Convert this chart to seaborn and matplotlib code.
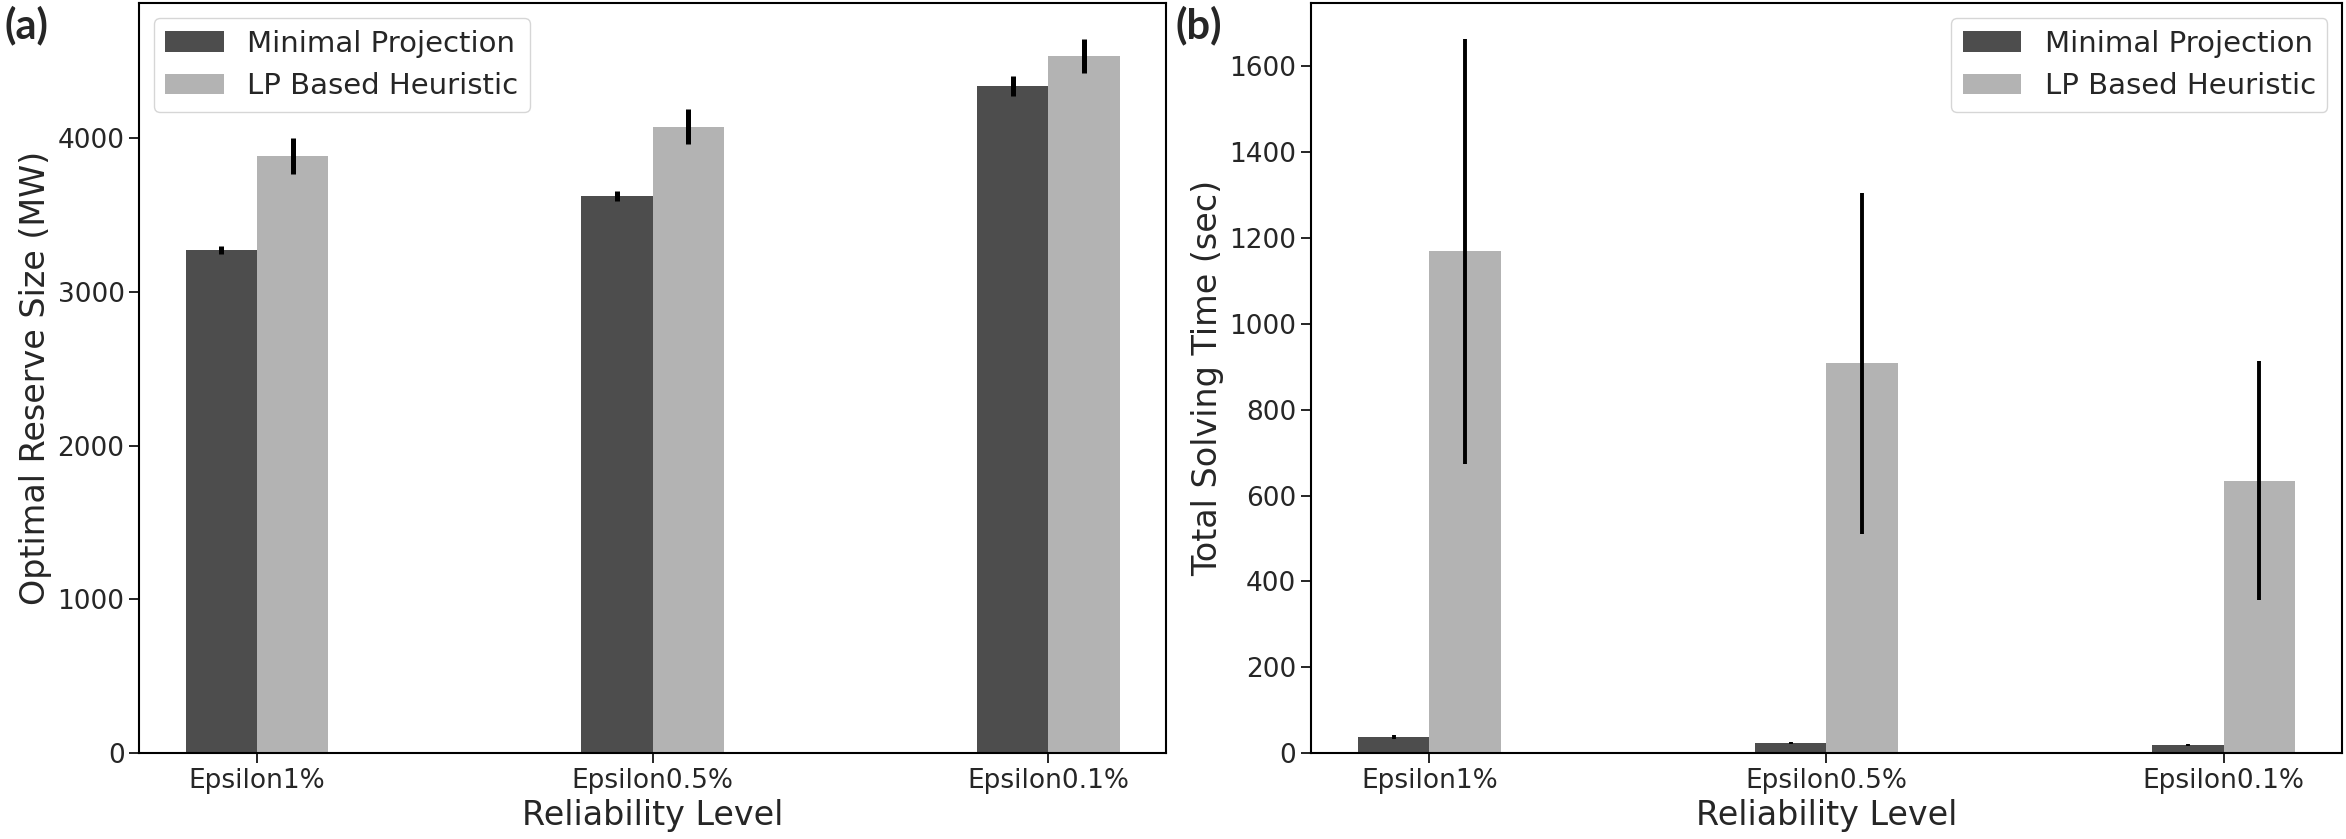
import pandas as pd
import matplotlib
matplotlib.use("Agg")
import matplotlib.pyplot as plt
import seaborn as sns

# --- DATA ---
levels = ["Epsilon1%", "Epsilon0.5%", "Epsilon0.1%"]
methods = ["Minimal Projection", "LP Based Heuristic"]

reserve_mp = [3275, 3625, 4340]
reserve_mp_err = [27, 35, 65]
reserve_lp = [3887, 4076, 4535]
reserve_lp_err = [117, 114, 112]

time_mp = [37, 23, 18]
time_mp_err = [5, 3, 2]
time_lp = [1169, 908, 635]
time_lp_err = [495, 398, 279]

COLORS = ["#4d4d4d", "#b3b3b3"]


def long_frame(mp, lp):
    rows = []
    for lvl, v in zip(levels, mp):
        rows.append({"level": lvl, "value": v, "method": methods[0]})
    for lvl, v in zip(levels, lp):
        rows.append({"level": lvl, "value": v, "method": methods[1]})
    return pd.DataFrame(rows)


def draw_panel(ax, mp, mp_err, lp, lp_err, ylabel, legend_loc, err_lw):
    df = long_frame(mp, lp)
    sns.barplot(data=df, x="level", y="value", hue="method", order=levels,
                hue_order=methods, palette=COLORS, width=0.36, errorbar=None,
                saturation=1, linewidth=0, edgecolor="none", ax=ax)
    # error bars on top of each seaborn bar
    for container, errs in zip(ax.containers, [mp_err, lp_err]):
        xs = [b.get_x() + b.get_width() / 2 for b in container]
        hs = [b.get_height() for b in container]
        ax.errorbar(xs, hs, yerr=errs, fmt="none", ecolor="black",
                    elinewidth=err_lw, capsize=0)
    top = max(v + e for v, e in zip(lp, lp_err))
    ax.set_ylim(0, top * 1.05)
    ax.set_xlim(-0.298, 2.298)
    ax.set_xlabel("Reliability Level", fontsize=24)
    ax.set_ylabel(ylabel, fontsize=24)
    ax.tick_params(axis="both", labelsize=19, length=7, width=1.2, color="black")
    for side in ["top", "right", "bottom", "left"]:
        ax.spines[side].set_visible(True)
        ax.spines[side].set_color("black")
        ax.spines[side].set_linewidth(1.5)
    handles, labels = ax.get_legend_handles_labels()
    ax.legend(handles, labels, loc=legend_loc, fontsize=21, frameon=True,
              fancybox=True, edgecolor="0.8", framealpha=0.8)


sns.set_style("ticks")
plt.rcParams["font.family"] = ["DejaVu Sans"]

fig = plt.figure(figsize=(23.46, 8.39), dpi=100)
ax1 = fig.add_axes([0.0593, 0.1025, 0.4378, 0.8936])
ax2 = fig.add_axes([0.5588, 0.1025, 0.4395, 0.8936])

draw_panel(ax1, reserve_mp, reserve_mp_err, reserve_lp, reserve_lp_err,
           "Optimal Reserve Size (MW)", "upper left", 3.6)
draw_panel(ax2, time_mp, time_mp_err, time_lp, time_lp_err,
           "Total Solving Time (sec)", "upper right", 2.8)

fig.text(0.002, 0.994, "(a)", fontsize=30, fontweight="bold", va="top",
         family=["Lato", "DejaVu Sans"])
fig.text(0.501, 0.994, "(b)", fontsize=30, fontweight="bold", va="top",
         family=["Lato", "DejaVu Sans"])

fig.savefig("out.png", dpi=100)
